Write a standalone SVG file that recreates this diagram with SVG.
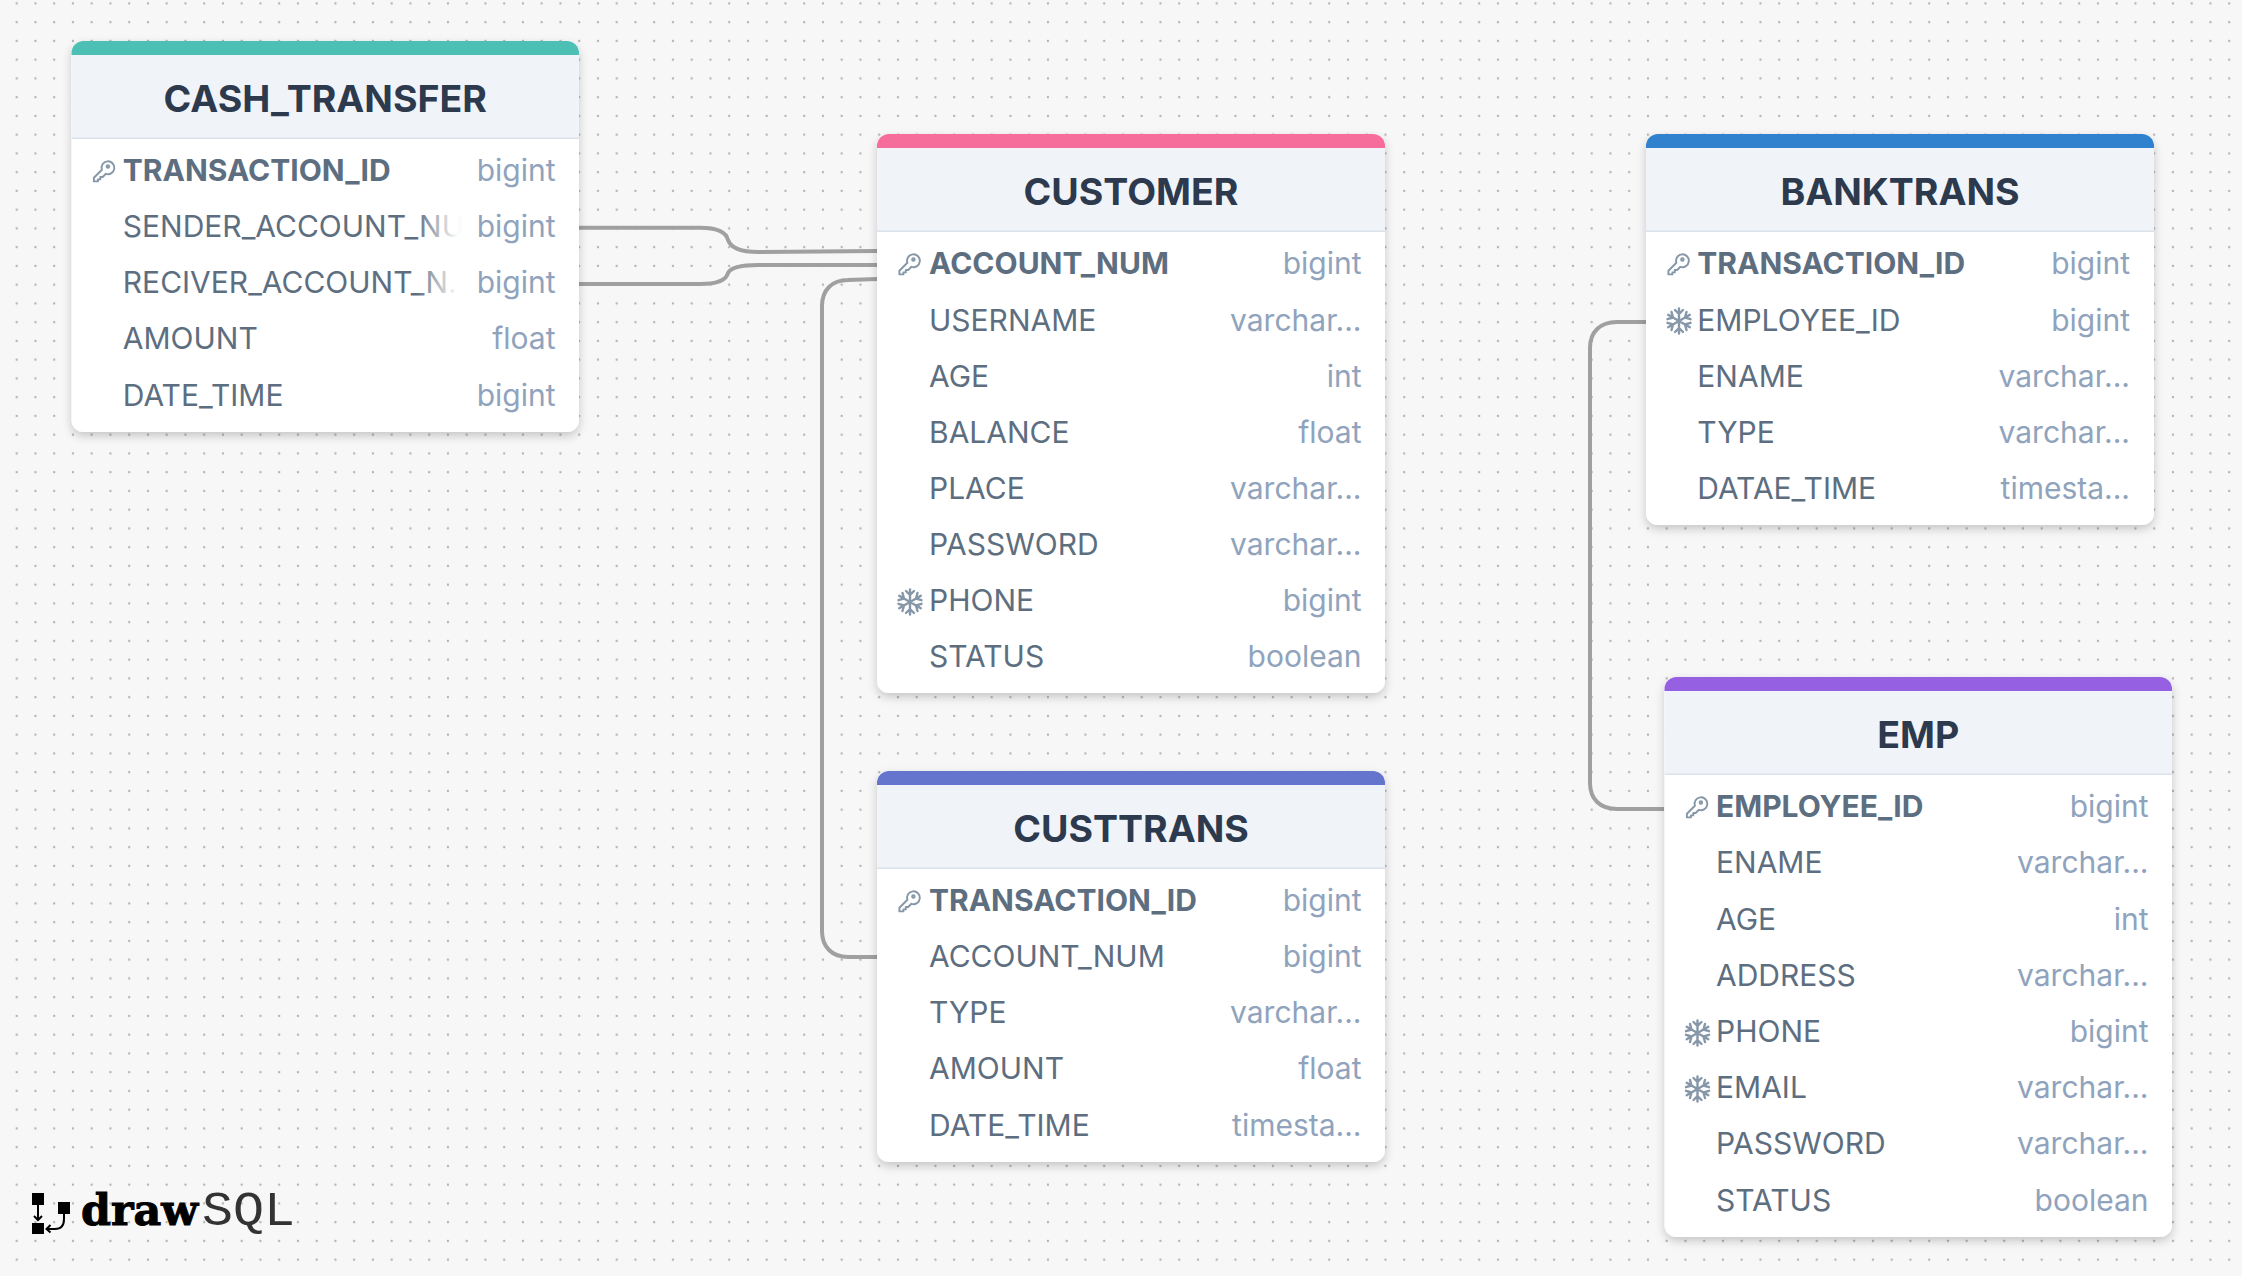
<svg xmlns="http://www.w3.org/2000/svg" width="2242" height="1276" viewBox="0 0 2242 1276">
<style>
text{font-family:Inter,"Noto Sans","Liberation Sans",sans-serif}
.t{font-size:37.500px;font-weight:700;fill:#2d3a4e;text-anchor:middle}
.n{font-size:30px;fill:#5d6e80}
.k{font-weight:650}
.y{font-size:30px;fill:#90a3bc;text-anchor:end}
.hd{fill:#f0f4f9}
.ln{fill:#dbe2ec}
.card{fill:#fff;filter:url(#sh)}
.c{fill:none;stroke:#a0a0a0;stroke-width:4}
.ic{fill:none;stroke:#8597a8;stroke-width:2.400;stroke-linecap:round;stroke-linejoin:round}
</style>
<defs>
<pattern id="dots" x="16.7" y="3.4" width="18.75" height="18.75" patternUnits="userSpaceOnUse"><circle cx="0" cy="0" r="1.2" fill="#b4b4b4"/><circle cx="18.75" cy="0" r="1.2" fill="#b4b4b4"/><circle cx="0" cy="18.75" r="1.2" fill="#b4b4b4"/><circle cx="18.75" cy="18.75" r="1.2" fill="#b4b4b4"/></pattern>
<filter id="sh" x="-10%" y="-10%" width="120%" height="120%"><feDropShadow dx="0" dy="4" stdDeviation="5" flood-color="#000" flood-opacity="0.2"/></filter>
<linearGradient id="f1b" gradientUnits="userSpaceOnUse" x1="345" y1="0" x2="385" y2="0"><stop offset="0" stop-color="#5d6e80"/><stop offset="1" stop-color="#5d6e80" stop-opacity="0.03"/></linearGradient>
<g id="key" class="ic"><g transform="scale(.8)"><path d="M-2 -1.500a8 8 0 1 1 5 5L-1 7.500h-3v3h-3v2.500h-5v-4.500z"/><circle cx="5.500" cy="-5.500" r="1.600"/></g></g>
<g id="flake" class="ic"><path stroke-width="2.400" d="M0 -12.500V12.500M-10.800 -6.200L10.800 6.200M-10.800 6.200L10.800 -6.200M-4 -11L0 -7L4 -11M-4 11L0 7L4 11M-11.500 -1.800L-6 -3.500L-7.500 -9M11.500 -1.800L6 -3.500L7.500 -9M-11.500 1.800L-6 3.500L-7.500 9M11.500 1.800L6 3.500L7.500 9"/></g>
</defs>
<rect width="2242" height="1276" fill="#f7f7f7"/>
<rect width="2242" height="1276" fill="url(#dots)"/>
<g id="connectors">
<path class="c" d="M579 227.700H700C716 227.700 726 231 728 240C731 248 742 252 758 252L877 251"/>
<path class="c" d="M579 284H700C716 284 726 281 728 273C731 267 742 265 758 265H877"/>
<path class="c" d="M877 279L848 280C832 280 822 290 822 306V931C822 947 832 957 848 957H877"/>
<path class="c" d="M1646 322H1617C1600 322 1590 332 1590 348V783C1590 799 1600 809 1617 809H1664"/>
</g>
<g id="CASH_TRANSFER" transform="translate(71.500 41)">
<rect class="card" width="507.500" height="391" rx="12"/>
<path fill="#4dc0b5" d="M0 14V12A12 12 0 0 1 12 0H495.500A12 12 0 0 1 507.500 12V14Z"/>
<rect class="hd" y="14" width="507.500" height="83"/><rect class="ln" y="96.500" width="507.500" height="1.500"/>
<text class="t" x="253.750" y="70.500">CASH_TRANSFER</text>
<use href="#key" x="32" y="130"/>
<text class="n k" x="51.300" y="140">TRANSACTION_ID</text><text class="y" x="484" y="140">bigint</text>
<text class="n" x="51.300" y="196" style="fill:url(#f1b)">SENDER_ACCOUNT_NU</text><text class="y" x="484" y="196">bigint</text>
<text class="n" x="51.300" y="252" style="fill:url(#f1b)">RECIVER_ACCOUNT_N.</text><text class="y" x="484" y="252">bigint</text>
<text class="n" x="51.300" y="308">AMOUNT</text><text class="y" x="484" y="308">float</text>
<text class="n" x="51.300" y="365">DATE_TIME</text><text class="y" x="484" y="365">bigint</text>
</g>
<g id="CUSTOMER" transform="translate(877 134)">
<rect class="card" width="508" height="559" rx="12"/>
<path fill="#f66d9b" d="M0 14V12A12 12 0 0 1 12 0H496A12 12 0 0 1 508 12V14Z"/>
<rect class="hd" y="14" width="508" height="83"/><rect class="ln" y="96.500" width="508" height="1.500"/>
<text class="t" x="254" y="70.500">CUSTOMER</text>
<use href="#key" x="32" y="130"/>
<text class="n k" x="52" y="140">ACCOUNT_NUM</text><text class="y" x="484.500" y="140">bigint</text>
<text class="n" x="52" y="196.500">USERNAME</text><text class="y" x="484.500" y="196.500">varchar...</text>
<text class="n" x="52" y="252.500">AGE</text><text class="y" x="484.500" y="252.500">int</text>
<text class="n" x="52" y="308.500">BALANCE</text><text class="y" x="484.500" y="308.500">float</text>
<text class="n" x="52" y="365">PLACE</text><text class="y" x="484.500" y="365">varchar...</text>
<text class="n" x="52" y="421">PASSWORD</text><text class="y" x="484.500" y="421">varchar...</text>
<use href="#flake" x="33" y="468"/>
<text class="n" x="52" y="477">PHONE</text><text class="y" x="484.500" y="477">bigint</text>
<text class="n" x="52" y="533">STATUS</text><text class="y" x="484.500" y="533">boolean</text>
</g>
<g id="CUSTTRANS" transform="translate(877 771)">
<rect class="card" width="508" height="391" rx="12"/>
<path fill="#6574cd" d="M0 14V12A12 12 0 0 1 12 0H496A12 12 0 0 1 508 12V14Z"/>
<rect class="hd" y="14" width="508" height="83"/><rect class="ln" y="96.500" width="508" height="1.500"/>
<text class="t" x="254" y="70.500">CUSTTRANS</text>
<use href="#key" x="32" y="130"/>
<text class="n k" x="52" y="140">TRANSACTION_ID</text><text class="y" x="484.500" y="140">bigint</text>
<text class="n" x="52" y="196">ACCOUNT_NUM</text><text class="y" x="484.500" y="196">bigint</text>
<text class="n" x="52" y="252">TYPE</text><text class="y" x="484.500" y="252">varchar...</text>
<text class="n" x="52" y="308">AMOUNT</text><text class="y" x="484.500" y="308">float</text>
<text class="n" x="52" y="365">DATE_TIME</text><text class="y" x="484.500" y="365">timesta...</text>
</g>
<g id="BANKTRANS" transform="translate(1646 134)">
<rect class="card" width="508" height="391" rx="12"/>
<path fill="#3182ce" d="M0 14V12A12 12 0 0 1 12 0H496A12 12 0 0 1 508 12V14Z"/>
<rect class="hd" y="14" width="508" height="83"/><rect class="ln" y="96.500" width="508" height="1.500"/>
<text class="t" x="254" y="70.500">BANKTRANS</text>
<use href="#key" x="32" y="130"/>
<text class="n k" x="51.300" y="140">TRANSACTION_ID</text><text class="y" x="484" y="140">bigint</text>
<use href="#flake" x="33" y="187"/>
<text class="n" x="51.300" y="196.500">EMPLOYEE_ID</text><text class="y" x="484" y="196.500">bigint</text>
<text class="n" x="51.300" y="252.500">ENAME</text><text class="y" x="484" y="252.500">varchar...</text>
<text class="n" x="51.300" y="308.500">TYPE</text><text class="y" x="484" y="308.500">varchar...</text>
<text class="n" x="51.300" y="365">DATAE_TIME</text><text class="y" x="484" y="365">timesta...</text>
</g>
<g id="EMP" transform="translate(1664.500 677)">
<rect class="card" width="507.500" height="560" rx="12"/>
<path fill="#9561e2" d="M0 14V12A12 12 0 0 1 12 0H495.500A12 12 0 0 1 507.500 12V14Z"/>
<rect class="hd" y="14" width="507.500" height="83"/><rect class="ln" y="96.500" width="507.500" height="1.500"/>
<text class="t" x="253.750" y="70.500">EMP</text>
<use href="#key" x="32" y="130"/>
<text class="n k" x="51.500" y="140">EMPLOYEE_ID</text><text class="y" x="484" y="140">bigint</text>
<text class="n" x="51.500" y="196">ENAME</text><text class="y" x="484" y="196">varchar...</text>
<text class="n" x="51.500" y="252.500">AGE</text><text class="y" x="484" y="252.500">int</text>
<text class="n" x="51.500" y="308.500">ADDRESS</text><text class="y" x="484" y="308.500">varchar...</text>
<use href="#flake" x="33" y="356"/>
<text class="n" x="51.500" y="365">PHONE</text><text class="y" x="484" y="365">bigint</text>
<use href="#flake" x="33" y="412"/>
<text class="n" x="51.500" y="421">EMAIL</text><text class="y" x="484" y="421">varchar...</text>
<text class="n" x="51.500" y="477">PASSWORD</text><text class="y" x="484" y="477">varchar...</text>
<text class="n" x="51.500" y="534">STATUS</text><text class="y" x="484" y="534">boolean</text>
</g>
<g id="logo">
<rect x="32" y="1193" width="12" height="12" fill="#000"/>
<rect x="32" y="1223" width="12" height="11" fill="#000"/>
<rect x="58" y="1202" width="12" height="12" fill="#000"/>
<path d="M38 1205V1220M34 1216L38 1220L42 1216M64 1214V1219C64 1226 61 1229 55 1229H47M50.500 1225L46.500 1229L50.500 1232.500" fill="none" stroke="#000" stroke-width="2"/>
<text x="81" y="1225" style="font-family:'DejaVu Serif',serif;font-size:42px;font-weight:700;fill:#000;stroke:#000;stroke-width:1" textLength="117" lengthAdjust="spacingAndGlyphs">draw</text>
<text x="202" y="1225" style="font-family:'Liberation Mono',monospace;font-size:48px;fill:#333" textLength="93" lengthAdjust="spacingAndGlyphs">SQL</text>
</g>
</svg>
